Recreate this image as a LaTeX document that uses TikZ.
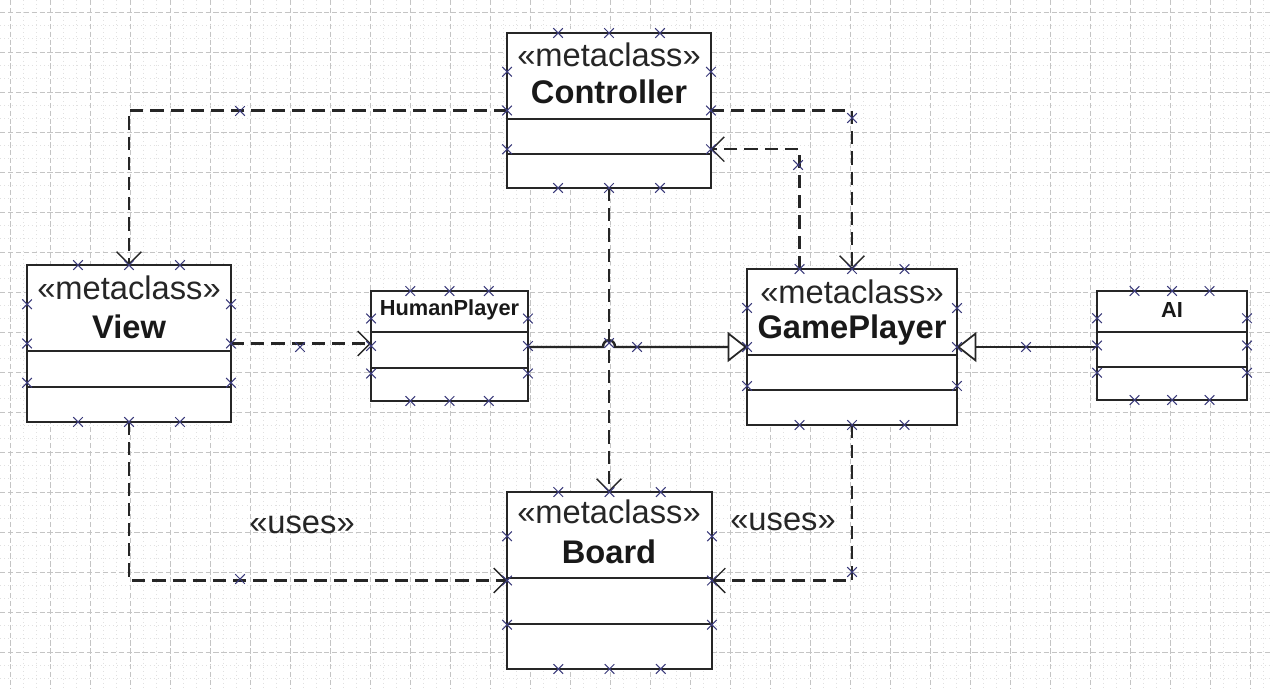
\documentclass[tikz,border=0pt]{standalone}
\usepackage{fontspec}
\setmainfont{Liberation Sans}
\usepackage{xcolor}
\usepackage{tikz}
\definecolor{umlline}{HTML}{262626}
\definecolor{umlhandle}{HTML}{3a3a7a}
\definecolor{umlgrid}{HTML}{c4c4c4}
\usetikzlibrary{arrows.meta, positioning, calc, shapes.misc}

\tikzset{
  classbox/.style={draw=umlline, fill=white, line width=1.5pt, inner sep=0pt, outer sep=0pt},
  divider/.style={draw=umlline, line width=1.4pt},
  stereo/.style={font=\fontsize{18.6}{20}\selectfont, text=black!85},
  cname/.style={font=\fontsize{18.6}{20}\selectfont\bfseries, text=black!90},
  sname/.style={font=\fontsize{12.4}{14}\selectfont\bfseries, text=black!90},
  dep/.style={draw=umlline, line width=1.4pt, dash pattern=on 7.5pt off 4pt,
    -{Straight Barb[length=7pt,width=14pt,line width=0.8pt]}},
  inherit/.style={draw=umlline, line width=1.4pt,
    -{Triangle[length=11pt,width=17pt,fill=white,line width=1pt]}},
  hdl/.style={cross out, draw=umlhandle, line width=0.6pt, minimum size=0.17cm, inner sep=0pt},
  majorgrid/.style={umlgrid, line width=0.4pt, dash pattern=on 3pt off 1.5pt},
  minorgrid/.style={umlgrid!50, line width=0.3pt, dotted},
}

\begin{document}
\begin{tikzpicture}[x=0.02cm, y=-0.02cm]
\useasboundingbox (0,0) rectangle (1273,689);
\fill[white] (0,0) rectangle (1273,689);
% background grid
\foreach \i in {0,...,31} {
  \draw[minorgrid] ({\i*40+23.3},0) -- ({\i*40+23.3},689);
  \draw[minorgrid] ({\i*40+36.7},0) -- ({\i*40+36.7},689);
  \draw[majorgrid] ({\i*40+10},0) -- ({\i*40+10},689);
}
\foreach \i in {0,...,17} {
  \draw[minorgrid] (0,{\i*40-1.3}) -- (1273,{\i*40-1.3});
  \draw[minorgrid] (0,{\i*40+25.3}) -- (1273,{\i*40+25.3});
  \draw[majorgrid] (0,{\i*40+12}) -- (1273,{\i*40+12});
}

% classes
\node[classbox, minimum width=4.08cm, minimum height=3.10cm] (ctrl) at (609,110.5) {};
\node[classbox, minimum width=4.08cm, minimum height=3.14cm] (view) at (129,343.5) {};
\node[classbox, minimum width=3.14cm, minimum height=2.20cm] (human) at (449.5,346) {};
\node[classbox, minimum width=4.20cm, minimum height=3.12cm] (gp) at (852,347) {};
\node[classbox, minimum width=3.00cm, minimum height=2.18cm] (ai) at (1172,345.5) {};
\node[classbox, minimum width=4.10cm, minimum height=3.54cm] (board) at (609.5,580.5) {};

% compartments
\foreach \b/\ya/\yb in {ctrl/119/154, view/351/387, human/332/368, gp/355/390, ai/332/367, board/578/624} {
  \draw[divider] (\b.west |- 0,\ya) -- (\b.east |- 0,\ya);
  \draw[divider] (\b.west |- 0,\yb) -- (\b.east |- 0,\yb);
}

% names
\node[stereo] (ctrlst) at (609,55) {«metaclass»};
\node[cname] (ctrlname) at (609,92) {Controller};
\node[stereo] (viewst) at (129,288) {«metaclass»};
\node[cname] (viewname) at (129,327) {View};
\node[stereo] (gpst) at (852,292) {«metaclass»};
\node[cname] (gpname) at (852,330) {GamePlayer};
\node[stereo] (boardst) at (609,512) {«metaclass»};
\node[cname] (boardname) at (609,552) {Board};
\node[sname] (humanname) at (449.5,310) {HumanPlayer};
\node[sname] (ainame) at (1172,310) {AI};

% dependencies
\coordinate (gpq) at ($(gp.north west)!0.25!(gp.north east)$);
\coordinate (ctrlq) at ($(ctrl.north east)!0.75!(ctrl.south east)$);
\coordinate (hop) at (ctrl.south |- gp.west);
\draw[dep] (ctrl.west) -| (view.north);
\draw[dep] (ctrl.east) -| (gp.north);
\draw[dep] (gpq) |- (ctrlq);
\draw[dep] (view.east) -- (view.east -| human.west);
\draw[dep] (ctrl.south) -- (ctrl.south |- board.north);
\draw[dep] (view.south) |- (board.west);
\draw[dep] (gp.south) |- (board.east);
\node[stereo] (usesl) at (302,525) {«uses»};
\node[stereo] (usesr) at (783,522) {«uses»};

% generalisations
\draw[inherit] (human.east |- gp.west) -- ($(hop)+(-6,0)$)
  .. controls ($(hop)+(-6,-9)$) and ($(hop)+(6,-9)$) .. ($(hop)+(6,0)$) -- (gp.west);
\draw[inherit] (ai.west |- gp.east) -- (gp.east);

% selection handles
\foreach \b in {ctrl,view,human,gp,ai,board}
  \foreach \f/\k in {0.25/1,0.5/2,0.75/3} {
    \node[hdl] (\b-n\k) at ($(\b.north west)!\f!(\b.north east)$) {};
    \node[hdl] (\b-s\k) at ($(\b.south west)!\f!(\b.south east)$) {};
    \node[hdl] (\b-w\k) at ($(\b.north west)!\f!(\b.south west)$) {};
    \node[hdl] (\b-e\k) at ($(\b.north east)!\f!(\b.south east)$) {};
  }
\node[hdl] (h1) at (240,111) {};
\node[hdl] (h2) at (852,118) {};
\node[hdl] (h3) at (798,165) {};
\node[hdl] (h4) at (300,347) {};
\node[hdl] (h5) at (609,343) {};
\node[hdl] (h6) at (637,347) {};
\node[hdl] (h7) at (1026,347) {};
\node[hdl] (h8) at (240,579) {};
\node[hdl] (h9) at (852,572) {};
\end{tikzpicture}
\end{document}
